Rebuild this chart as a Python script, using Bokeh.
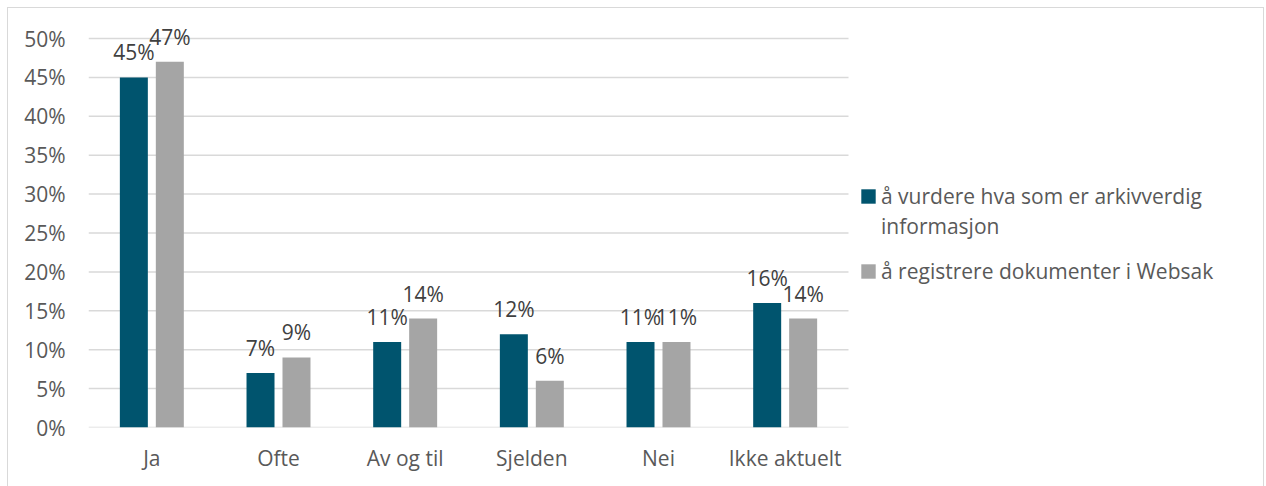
from bokeh.plotting import figure
from bokeh.models import (ColumnDataSource, Range1d, Legend, LegendItem,
                          NumeralTickFormatter, FixedTicker)
from bokeh.core.properties import value
from bokeh.embed import file_html
from bokeh.resources import INLINE

categories = ["Ja", "Ofte", "Av og til", "Sjelden", "Nei", "Ikke aktuelt"]
series_1 = ["å vurdere hva som er arkivverdig", "informasjon"]
series_2 = "å registrere dokumenter i Websak"
vurdere = [0.45, 0.07, 0.11, 0.12, 0.11, 0.16]
registrere = [0.47, 0.09, 0.14, 0.06, 0.11, 0.14]
y_ticks = [0, 0.05, 0.10, 0.15, 0.20, 0.25, 0.30, 0.35, 0.40, 0.45, 0.50]
y_max = 0.5

C1 = "#00546E"
C2 = "#A5A5A5"
GRID = "#d9d9d9"
FONT = "Open Sans"
TXT = "#595959"
FS = "21px"

FRAME_W = 1175   # full frame incl. legend area
CAT_W = 760      # width that the categories occupy
PLOT_H = 389     # height of the 0..50% area
TOP_PAD = 30     # extra frame room above 50% for labels

n = len(categories)
idx = [i + 0.5 for i in range(n)]
off = 0.142
bw = 0.221

src = ColumnDataSource(dict(
    x1=[x - off for x in idx], x2=[x + off for x in idx],
    v1=vurdere, v2=registrere,
    l1=[f"{round(v*100)}%" for v in vurdere],
    l2=[f"{round(v*100)}%" for v in registrere],
))

p = figure(x_range=Range1d(0, n * FRAME_W / CAT_W),
           y_range=Range1d(0, y_max * (PLOT_H + TOP_PAD) / PLOT_H),
           frame_width=FRAME_W, frame_height=PLOT_H + TOP_PAD,
           output_backend="svg", toolbar_location=None,
           min_border_left=80, min_border_right=0, min_border_top=0, min_border_bottom=61)
p.styles = {"border": "1px solid #d9d9d9", "margin-left": "7px", "margin-top": "7px"}
p.outline_line_color = None

# horizontal gridlines limited to the category area
p.segment(x0=[0] * len(y_ticks), x1=[n] * len(y_ticks), y0=y_ticks, y1=y_ticks,
          line_color=GRID, line_width=1.5)

r1 = p.vbar(x="x1", top="v1", width=bw, source=src, fill_color=C1, line_color=None)
r2 = p.vbar(x="x2", top="v2", width=bw, source=src, fill_color=C2, line_color=None)
dummy = p.vbar(x=[], top=[], width=bw, fill_alpha=0, line_alpha=0)

for xcol, col, lab in (("x1", "v1", "l1"), ("x2", "v2", "l2")):
    p.text(x=xcol, y=col, text=lab, source=src,
           text_align="center", text_baseline="alphabetic", y_offset=-25,
           text_font=value(FONT), text_font_size=FS, text_color="#404040")

p.xaxis.ticker = FixedTicker(ticks=idx)
p.xaxis.major_label_overrides = {x: c for x, c in zip(idx, categories)}
p.yaxis.ticker = FixedTicker(ticks=y_ticks)
p.yaxis.formatter = NumeralTickFormatter(format="0%")
for ax in (p.xaxis, p.yaxis):
    ax.axis_line_color = None
    ax.major_tick_line_color = None
    ax.minor_tick_line_color = None
    ax.major_label_text_font = FONT
    ax.major_label_text_font_size = FS
    ax.major_label_text_color = TXT
p.yaxis.major_label_standoff = 17
p.xaxis.major_label_standoff = 10
p.xgrid.grid_line_color = None
p.ygrid.grid_line_color = None

common = dict(orientation="vertical", padding=0, margin=0, glyph_width=18, glyph_height=18,
              label_standoff=4, label_text_font=FONT, label_text_font_size=FS,
              label_text_color=TXT, background_fill_alpha=0, border_line_color=None)
legA = Legend(items=[LegendItem(label=series_1[0], renderers=[r1]),
                     LegendItem(label=series_1[1], renderers=[dummy])],
              location=(771, 187), spacing=2, **common)
legB = Legend(items=[LegendItem(label=series_2, renderers=[r2])],
              location=(771, 142), spacing=0, **common)
p.add_layout(legA, "center")
p.add_layout(legB, "center")

open("out.html", "w").write(file_html(p, INLINE))
